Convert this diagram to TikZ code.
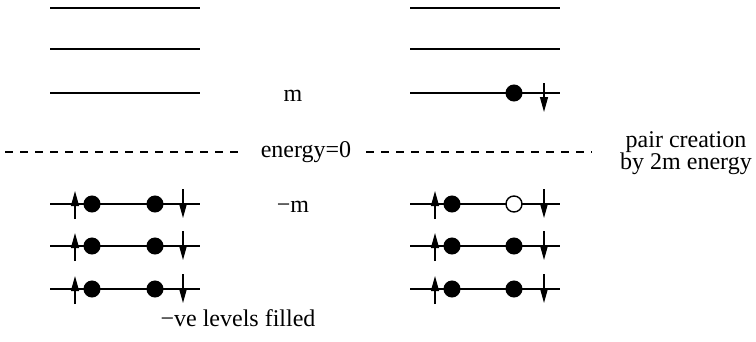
\documentclass[tikz,border=0pt]{standalone}
\usepackage{fontspec}
\setmainfont{Liberation Serif}
\usetikzlibrary{arrows.meta}
\begin{document}
\begin{tikzpicture}[x=1pt,y=-1pt,
  level/.style={line width=1.4pt},
  zeroline/.style={line width=1.3pt,dash pattern=on 8pt off 7pt},
  electron/.style={circle,fill=black,draw=black,line width=1pt,minimum size=16pt,inner sep=0pt},
  hole/.style={circle,fill=white,draw=black,line width=1.4pt,minimum size=16pt,inner sep=0pt},
  spinup/.style={line width=1.2pt,-{Triangle[length=15pt,width=8pt]}},
  lbl/.style={font=\fontsize{24}{22.5}\selectfont,inner sep=0pt,align=center}]
\useasboundingbox (0,0) rectangle (756,341);

% positive energy levels
\foreach \y/\n in {8/a,49/b,93/c}{
  \draw[level] (50,\y) coordinate (L\n1) -- (200,\y) coordinate (L\n2);
  \draw[level] (410,\y) coordinate (R\n1) -- (560,\y) coordinate (R\n2);
}
% negative energy levels
\foreach \y/\n in {204/d,246/e,289/f}{
  \draw[level] (50,\y) coordinate (L\n1) -- (200,\y) coordinate (L\n2);
  \draw[level] (410,\y) coordinate (R\n1) -- (560,\y) coordinate (R\n2);
}

% labels
\node[lbl] (m) at (293,96) {m};
\node[lbl] (zero) at (306,152) {energy=0};
\node[lbl] (mm) at (293,207) {\textminus m};
\node[lbl] (filled) at (238,318) {\textminus ve levels filled};
\node[lbl] (pair) at (686,153) {pair creation\\by 2m energy};

% zero-energy line
\draw[zeroline] (5,152) coordinate (z1) -- (242,152);
\draw[zeroline] (366,152) -- (592,152) coordinate (z2);

% filled sea on the left
\foreach \y in {204,246,289}{
  \draw[spinup] (75,\y+15) -- (75,\y-13);
  \node[electron] at (92,\y) {};
  \node[electron] at (155,\y) {};
  \draw[spinup] (183,\y-15) -- (183,\y+14);
}

% right: one electron lifted, leaving a hole
\node[electron] (lifted) at (514,93) {};
\draw[spinup] (544,83) -- (544,112);
\foreach \y/\k in {204/hole,246/electron,289/electron}{
  \draw[spinup] (435,\y+15) -- (435,\y-13);
  \node[electron] at (452,\y) {};
  \node[\k] at (514,\y) {};
  \draw[spinup] (544,\y-15) -- (544,\y+14);
}
\end{tikzpicture}
\end{document}
